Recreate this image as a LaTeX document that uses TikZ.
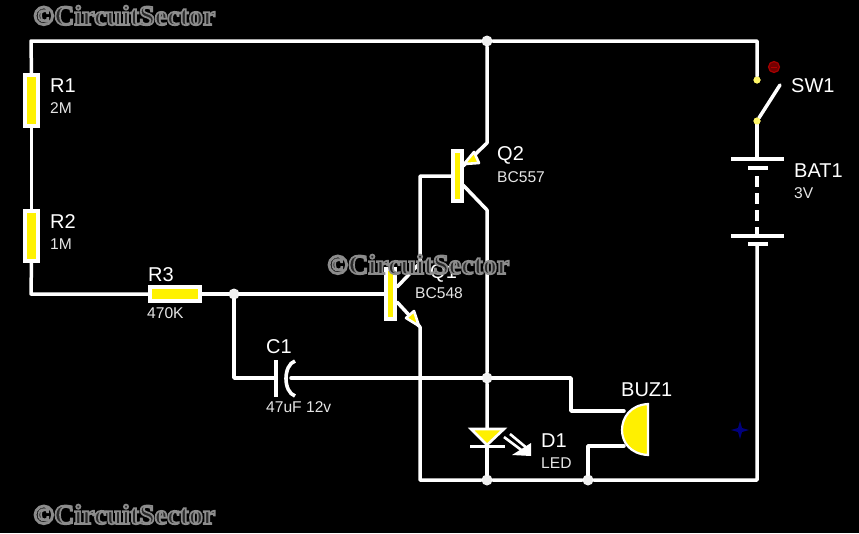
\documentclass[tikz,border=0pt]{standalone}
\usepackage{fontspec}
\setmainfont{Liberation Sans}
\newfontfamily\wmfont{Liberation Serif}[BoldFont={* Bold}]
\definecolor{ledy}{RGB}{255,240,0}
\definecolor{dotg}{RGB}{240,240,240}
\newcommand{\wmtext}{\special{pdf:code q 2 Tr 1.7 w 0.55 0.55 0.55 RG 0.16 0.16 0.16 rg}{\wmfont\bfseries\fontsize{28}{30}\selectfont ©CircuitSector}\special{pdf:code 0 Tr Q}}
\tikzset{
  x=1pt,y=-1pt,
  wire/.style={draw=white,line width=3.5pt,line cap=round,line join=round},
  res/.style={draw=white,fill=yellow,line width=4pt,inner sep=0pt,outer sep=0pt},
  tbar/.style={draw=white,fill=yellow,line width=4pt,inner sep=0pt,outer sep=0pt,minimum width=9pt,minimum height=50pt},
  junc/.style={circle,fill=dotg,inner sep=0pt,minimum size=11pt},
  nm/.style={text=white,anchor=base west,inner sep=0pt,font=\fontsize{20}{22}\selectfont},
  val/.style={text=white!90!black,anchor=base west,inner sep=0pt,font=\fontsize{15.6}{17}\selectfont},
  wm/.style={anchor=base west,inner sep=0pt},
  arrowtip/.style={draw=white,fill=ledy,line width=2.6pt,line join=round}
}
\begin{document}
\begin{tikzpicture}
\fill[black] (0,0) rectangle (859,533);
\useasboundingbox (0,0) rectangle (859,533);

% named points
\coordinate (tl) at (31,41);
\coordinate (tr) at (757,41);
\coordinate (bl) at (31,294);
\coordinate (br) at (757,480);
\coordinate (q1c) at (397,287);
\coordinate (q1e) at (397,302);
\coordinate (q1c2) at (420,263);
\coordinate (q1e2) at (420,327);
\coordinate (q2bt) at (420,176);
\coordinate (q2e) at (463,166);
\coordinate (q2e2) at (487,143);
\coordinate (q2c) at (463,185);
\coordinate (q2c2) at (487,210);
\coordinate (buzA) at (571,378);
\coordinate (buzB) at (571,411);
\coordinate (buzC) at (624,411);
\coordinate (buzD) at (588,446);
\coordinate (buzE) at (624,446);
\coordinate (ctl) at (234,378);
\coordinate (capa) at (276,378);
\coordinate (capb) at (291,378);
\coordinate (armend) at (780,85);
\coordinate (bat1) at (757,159);
\coordinate (bat2) at (757,236);
\coordinate (bat3) at (757,176);
\coordinate (bat4) at (757,244);
\coordinate (ledt) at (487,429);
\coordinate (ledb) at (487,446);
\coordinate (ecol) at (420,480);

% components as nodes
\node[res,minimum width=13pt,minimum height=51pt] (R1) at (31.5,100.5) {};
\node[res,minimum width=13pt,minimum height=50pt] (R2) at (31.5,236) {};
\node[res,minimum width=50pt,minimum height=14pt] (R3) at (175,294) {};
\node[tbar] (Q1) at (390.5,294) {};
\node[tbar] (Q2) at (457,176) {};
\node[junc] (J1) at (487,41) {};
\node[junc] (J2) at (234,294) {};
\node[junc] (J3) at (487,378) {};
\node[junc] (J4) at (487,480) {};
\node[junc] (J5) at (588,480) {};
\node[circle,fill=ledy!60!white,inner sep=0pt,minimum size=7pt] (S1) at (757,80) {};
\node[circle,fill=ledy!60!white,inner sep=0pt,minimum size=7pt] (S2) at (757,121) {};

% wires
\draw[wire] (R1.north) -- (tl) -- (J1) -- (tr) -- (S1);
\draw[wire] (R1.south) -- (R2.north);
\draw[wire] (R2.south) -- (bl) -- (R3.west);
\draw[wire] (R3.east) -- (J2) -- (Q1.west);
\draw[wire] (J2) -- (ctl) -- (capa);
\draw[wire] (capb) -- (J3) -- (buzA) -- (buzB) -- (buzC);
\draw[wire] (J1) -- (q2e2) -- (q2e);
\draw[wire] (q2c) -- (q2c2) -- (J3) -- (ledt);
\draw[wire] (Q2.west) -- (q2bt) -- (q1c2) -- (q1c);
\draw[wire] (q1e) -- (q1e2) -- (ecol) -- (J4) -- (J5) -- (br) -- (bat4);
\draw[wire] (ledb) -- (J4);
\draw[wire] (J5) -- (buzD) -- (buzE);
\draw[wire] (S2) -- (armend);
\draw[wire] (S2) -- (bat1);
\node[circle,fill=ledy!60!white,inner sep=0pt,minimum size=7pt] at (S1) {};
\node[circle,fill=ledy!60!white,inner sep=0pt,minimum size=7pt] at (S2) {};

% transistor arrows
\draw[arrowtip] (464,164) -- (474,152) -- (479,163) -- cycle;
\draw[arrowtip] (419,326) -- (406,318) -- (414,311) -- cycle;

% capacitor
\draw[draw=white,line width=3.6pt] (276,360) -- (276,397);
\draw[draw=white,line width=3.6pt] (295,361) .. controls (283,365) and (283,392) .. (295,396);

% battery
\draw[wire,line cap=butt] (731,159) -- (784,159);
\draw[wire,line cap=butt] (748,168) -- (768,168);
\draw[wire,line cap=butt,dash pattern=on 11pt off 6pt] (bat3) -- (bat2);
\draw[wire,line cap=butt] (731,236) -- (784,236);
\draw[wire,line cap=butt] (748,244) -- (768,244);

% LED
\draw[draw=white,fill=ledy,line width=2.6pt,line join=miter] (471,429) -- (504,429) -- (487,445) -- cycle;
\draw[draw=white,line width=3pt] (470,446) -- (505,446);
\draw[draw=white,line width=2.6pt] (504,437) -- (524,452);
\draw[draw=white,line width=2.6pt] (510,434) -- (528,449);
\fill[white] (531,456) -- (512,455) -- (531,443) -- cycle;

% buzzer
\draw[draw=white,fill=ledy,line width=2.2pt,line join=miter] (648,404) .. controls (630,405) and (622,418) .. (622,430) .. controls (622,442) and (630,454) .. (648,455) -- cycle;

% indicators
\node[circle,draw=red!65!black,fill=red!45!black,line width=1.2pt,inner sep=0pt,minimum size=11pt] (led) at (774,67) {};
\draw[red!70!black,line width=1pt] (771,67) -- (777,67);
\fill[blue!55!black,opacity=0.9] (740,421) -- (742,428) -- (749,430) -- (742,432) -- (740,439) -- (738,432) -- (731,430) -- (738,428) -- cycle;

% labels
\node[nm] at (50,92) {R1};
\node[val] at (50,113) {2M};
\node[nm] at (50,228) {R2};
\node[val] at (50,249) {1M};
\node[nm] at (148,281) {R3};
\node[val] at (147,318) {470K};
\node[nm] at (266,353) {C1};
\node[val] at (266,412) {47uF 12v};
\node[nm] at (430,278) {Q1};
\node[val] at (415,298) {BC548};
\node[nm] at (497,160) {Q2};
\node[val] at (497,182) {BC557};
\node[nm] at (541,447) {D1};
\node[val] at (541,468) {LED};
\node[nm] at (621,396) {BUZ1};
\node[nm] at (791,92) {SW1};
\node[nm] at (794,177) {BAT1};
\node[val] at (794,198) {3V};

% watermarks
\node[wm] at (33,25) {\wmtext};
\node[wm] at (327,274) {\wmtext};
\node[wm] at (33,524) {\wmtext};
\end{tikzpicture}
\end{document}
